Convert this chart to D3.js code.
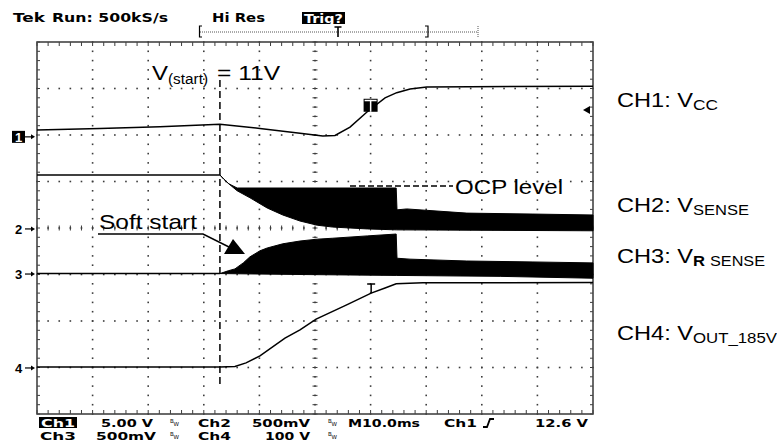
<!DOCTYPE html>
<html><head><meta charset="utf-8">
<script src="https://cdn.jsdelivr.net/npm/d3@7"></script>
<style>html,body{margin:0;padding:0;background:#fff;}svg{display:block;}</style>
</head><body>
<svg id="c" width="777" height="443"></svg>
<script>
// Horizontal: time in ms (M 10.0 ms/div, 10 divisions). Vertical: screen divisions (0..8, from bottom).
const timeDomain = [0, 100];
const divDomain = [0, 8];

// CH1: Vcc
const ch1Time = [0, 11.3, 22.1, 32.9, 40.1, 47.3, 51.4, 53.6, 56.3, 59.4, 62.6, 64.7, 67.1, 70.1, 77.9, 100];
const ch1Div  = [6.11, 6.14, 6.18, 6.23, 6.14, 6.04, 5.98, 5.99, 6.17, 6.50, 6.80, 6.91, 6.99, 7.03, 7.04, 7.05];

// CH2: Vsense (flat part, then switching envelope upper / lower edges)
const ch2FlatTime = [0, 32.9];
const ch2FlatDiv  = [5.14, 5.14];
const ch2UpTime = [32.9, 33.6, 34.5, 36.0, 47.3, 64.6, 64.75, 66.5, 77.3, 89.2, 100];
const ch2UpDiv  = [5.14, 5.05, 4.95, 4.86, 4.86, 4.86, 4.39, 4.41, 4.32, 4.30, 4.28];
const ch2LoTime = [32.9, 33.6, 34.5, 36.0, 38.3, 41.4, 44.2, 47.3, 50.4, 53.2, 59.4, 64.7, 100];
const ch2LoDiv  = [5.14, 5.05, 4.95, 4.80, 4.65, 4.43, 4.28, 4.15, 4.06, 4.02, 3.98, 3.96, 3.94];

// CH3: V R sense
const ch3FlatTime = [0, 32.9];
const ch3FlatDiv  = [3.02, 3.02];
const ch3UpTime = [32.9, 34.4, 35.6, 37.1, 38.3, 40.1, 41.4, 44.2, 47.3, 50.4, 53.2, 59.4, 64.6, 64.75, 67.1, 77.3, 89.2, 100];
const ch3UpDiv  = [3.02, 3.08, 3.12, 3.25, 3.38, 3.51, 3.57, 3.66, 3.72, 3.76, 3.78, 3.83, 3.87, 3.35, 3.33, 3.29, 3.27, 3.25];
const ch3LoTime = [32.9, 47.3, 64.7, 83.3, 100];
const ch3LoDiv  = [3.02, 3.00, 2.98, 2.96, 2.92];

// CH4: Vout_185V
const ch4Time = [0, 32.9, 35.6, 37.6, 40.1, 44.6, 47.3, 50.2, 55.6, 60.1, 62.6, 64.6, 69.4, 100];
const ch4Div  = [1.01, 1.01, 1.02, 1.10, 1.25, 1.63, 1.81, 2.04, 2.34, 2.60, 2.71, 2.80, 2.82, 2.83];

// channel ground markers (divisions) and labels
const markerNames = ["1", "2", "3", "4"];
const markerDiv = [5.96, 3.98, 3.01, 0.99];
const startTime = 32.9;       // V(start) instant
const trigLevelDiv = 6.54;    // trigger level arrow
const ch1TrigTime = 60.0, ch1TrigDiv = 6.65;
const ch4TrigTime = 60.1;

const headerTexts = ["Tek", "Run: 500kS/s", "Hi Res", "Trig?"];
const footerRow1 = ["Ch1", "5.00 V", "Ch2", "500mV", "M10.0ms", "Ch1", "12.6 V"];
const footerRow2 = ["Ch3", "500mV", "Ch4", "100 V"];

const svg = d3.select("#c");
const x = d3.scaleLinear().domain(timeDomain).range([37, 593]);
const y = d3.scaleLinear().domain(divDomain).range([414, 42]);

const zip = (a, b) => a.map((v, i) => [v, b[i]]);
const line = d3.line().x(d => x(d[0])).y(d => y(d[1]));

// ---------- grid ----------
const grid = svg.append("g");
const minorT = d3.range(0, 100.001, 2);
const minorV = d3.range(0, 8.001, 0.2);
const majorT = d3.range(10, 100, 10);
const majorV = d3.range(1, 8, 1);
const gc = "#3c3c3c";
majorT.forEach(t => minorV.forEach(v => {
  grid.append("rect").attr("x", x(t) - 0.8).attr("y", y(v) - 0.8).attr("width", 1.6).attr("height", 1.6).attr("fill", gc);
}));
majorV.forEach(v => minorT.forEach(t => {
  grid.append("rect").attr("x", x(t) - 0.8).attr("y", y(v) - 0.8).attr("width", 1.6).attr("height", 1.6).attr("fill", gc);
}));
// center cross ticks
minorV.forEach(v => grid.append("line").attr("x1", x(50) - 2.5).attr("x2", x(50) + 2.5).attr("y1", y(v)).attr("y2", y(v)).attr("stroke", gc).attr("stroke-width", 1));
minorT.forEach(t => grid.append("line").attr("y1", y(4) - 2.5).attr("y2", y(4) + 2.5).attr("x1", x(t)).attr("x2", x(t)).attr("stroke", gc).attr("stroke-width", 1));
// frame ticks
minorT.forEach(t => {
  grid.append("line").attr("x1", x(t)).attr("x2", x(t)).attr("y1", y(8)).attr("y2", y(8) + 4).attr("stroke", gc);
  grid.append("line").attr("x1", x(t)).attr("x2", x(t)).attr("y1", y(0)).attr("y2", y(0) - 4).attr("stroke", gc);
});
minorV.forEach(v => {
  grid.append("line").attr("y1", y(v)).attr("y2", y(v)).attr("x1", x(0)).attr("x2", x(0) + 3).attr("stroke", gc);
  grid.append("line").attr("y1", y(v)).attr("y2", y(v)).attr("x1", x(100)).attr("x2", x(100) - 3).attr("stroke", gc);
});
svg.append("rect").attr("x", x(0)).attr("y", y(8)).attr("width", x(100) - x(0)).attr("height", y(0) - y(8))
  .attr("fill", "none").attr("stroke", "#444").attr("stroke-width", 1.6);

// ---------- traces ----------
const tr = svg.append("g");
function envelope(upT, upV, loT, loV) {
  const pts = zip(upT, upV).concat(zip(loT, loV).reverse());
  return line(pts) + "Z";
}
tr.append("path").attr("d", envelope(ch2UpTime, ch2UpDiv, ch2LoTime, ch2LoDiv)).attr("fill", "#000").attr("stroke", "#000").attr("stroke-width", 1);
tr.append("path").attr("d", envelope(ch3UpTime, ch3UpDiv, ch3LoTime, ch3LoDiv)).attr("fill", "#000").attr("stroke", "#000").attr("stroke-width", 1);
[[ch1Time, ch1Div], [ch2FlatTime, ch2FlatDiv], [ch3FlatTime, ch3FlatDiv], [ch4Time, ch4Div]].forEach(([t, v]) => {
  tr.append("path").attr("d", line(zip(t, v))).attr("fill", "none").attr("stroke", "#000").attr("stroke-width", 1.5);
});

// V(start) dashed line
tr.append("line").attr("x1", x(startTime)).attr("x2", x(startTime)).attr("y1", 80).attr("y2", 385)
  .attr("stroke", "#000").attr("stroke-width", 1.5).attr("stroke-dasharray", "7,4");

// CH1 trigger "T" (reverse video)
const tx1 = x(ch1TrigTime), ty1 = y(ch1TrigDiv);
tr.append("rect").attr("x", tx1 - 7).attr("y", ty1 - 6).attr("width", 14).attr("height", 13).attr("fill", "#000");
tr.append("rect").attr("x", tx1 - 6).attr("y", ty1 - 5).attr("width", 12).attr("height", 1.5).attr("fill", "#fff");
tr.append("rect").attr("x", tx1 - 0.7).attr("y", ty1 - 5).attr("width", 1.5).attr("height", 12).attr("fill", "#fff");
// CH4 "T"
const tx4 = x(ch4TrigTime);
tr.append("path").attr("d", `M${tx4 - 4},284 H${tx4 + 4} M${tx4},284 V293`).attr("stroke", "#000").attr("stroke-width", 1.5).attr("fill", "none");
// trigger level arrow right
const ta = y(trigLevelDiv);
tr.append("path").attr("d", `M583,${ta} L590,${ta - 4} L590,${ta + 4} Z`).attr("fill", "#000");

// channel markers
markerNames.forEach((n, i) => {
  const my = y(markerDiv[i]);
  if (i === 0) {
    svg.append("rect").attr("x", 12).attr("y", my - 6).attr("width", 13).attr("height", 12).attr("fill", "#000");
  }
  svg.append("text").attr("x", 18.5).attr("y", my + 5).attr("text-anchor", "middle").attr("fill", i === 0 ? "#fff" : "#000")
    .attr("font-family", "Liberation Sans, Arial, sans-serif").attr("font-weight", "bold").attr("font-size", 13).text(n);
  svg.append("line").attr("x1", 25).attr("x2", 32).attr("y1", my).attr("y2", my).attr("stroke", "#000").attr("stroke-width", 1.2);
  svg.append("path").attr("d", `M35,${my} L31,${my - 2.5} L31,${my + 2.5} Z`).attr("fill", "#000");
});

// ---------- text helpers ----------
function txt(s, xx, yy, size, len, o = {}) {
  const t = svg.append("text").attr("x", xx).attr("y", yy).attr("font-size", size)
    .attr("font-family", o.family || "Liberation Sans, Arial, sans-serif")
    .attr("font-weight", o.weight || "normal").attr("fill", o.fill || "#000").text(s);
  if (len) t.attr("textLength", len).attr("lengthAdjust", "spacingAndGlyphs");
  return t;
}
const tek = "DejaVu Sans, sans-serif";

// header
txt(headerTexts[0], 13, 22, 12, 32, {family: tek, weight: "bold"});
txt(headerTexts[1], 52, 22, 12, 116, {family: tek, weight: "bold"});
txt(headerTexts[2], 212, 22, 12, 53, {family: tek, weight: "bold"});
svg.append("rect").attr("x", 302).attr("y", 12).attr("width", 43).attr("height", 12).attr("fill", "#000");
txt(headerTexts[3], 304, 22.5, 11.5, 39, {family: tek, weight: "bold", fill: "#fff"});
// record bracket
const hb = svg.append("g").attr("stroke", "#555").attr("fill", "none");
hb.append("line").attr("x1", 200).attr("x2", 478).attr("y1", 32).attr("y2", 32).attr("stroke-dasharray", "1,1");
hb.append("path").attr("d", "M202,26 H199.5 V37 H202").attr("stroke", "#000").attr("stroke-width", 1.2);
hb.append("path").attr("d", "M425,26 H428 V37 H425").attr("stroke", "#000").attr("stroke-width", 1.2);
hb.append("line").attr("x1", 478).attr("x2", 478).attr("y1", 26).attr("y2", 37).attr("stroke-dasharray", "1,1");
hb.append("path").attr("d", "M334.5,27 H341.5 M338,27 V37").attr("stroke", "#000").attr("stroke-width", 1.6);

// footer
const fs = 10.5, r1 = 427, r2 = 440;
function bw(xx, yy) {
  const t = svg.append("text").attr("x", xx).attr("y", yy - 4).attr("font-size", 5.5).attr("font-family", tek);
  t.append("tspan").text("B");
  t.append("tspan").attr("dy", 3).text("W");
}
svg.append("rect").attr("x", 39).attr("y", 417).attr("width", 38).attr("height", 11).attr("fill", "#000");
txt(footerRow1[0], 41, r1, fs, 34, {family: tek, weight: "bold", fill: "#fff"});
txt(footerRow1[1], 101, r1, fs, 52, {family: tek, weight: "bold"});
bw(170, r1);
txt(footerRow1[2], 198, r1, fs, 33, {family: tek, weight: "bold"});
txt(footerRow1[3], 252, r1, fs, 58, {family: tek, weight: "bold"});
bw(328, r1);
txt(footerRow1[4], 348, r1, fs, 72, {family: tek, weight: "bold"});
txt(footerRow1[5], 444, r1, fs, 33, {family: tek, weight: "bold"});
svg.append("path").attr("d", "M483,427 H487 L490,419 H494").attr("stroke", "#000").attr("stroke-width", 1.8).attr("fill", "none");
txt(footerRow1[6], 535, r1, fs, 53, {family: tek, weight: "bold"});
txt(footerRow2[0], 40, r2, fs, 36, {family: tek, weight: "bold"});
txt(footerRow2[1], 96, r2, fs, 60, {family: tek, weight: "bold"});
bw(170, r2);
txt(footerRow2[2], 198, r2, fs, 33, {family: tek, weight: "bold"});
txt(footerRow2[3], 265, r2, fs, 45, {family: tek, weight: "bold"});
bw(328, r2);

// annotations
txt("V", 152, 80, 21, 16);
txt("(start)", 168, 84, 14, 40);
txt("= 11V", 217, 80, 21, 63);
txt("OCP level", 455, 194, 20, 108);
svg.append("line").attr("x1", 350).attr("x2", 453).attr("y1", 186).attr("y2", 186).attr("stroke", "#000").attr("stroke-width", 1.3).attr("stroke-dasharray", "6,3");
txt("Soft start", 99, 229, 21, 98);
svg.append("path").attr("d", "M98,234 H203 L229,247").attr("stroke", "#000").attr("stroke-width", 1.5).attr("fill", "none");
svg.append("path").attr("d", "M233,239 L224,254 L245,254 Z").attr("fill", "#000");

// right channel labels
txt("CH1: V", 617, 107, 20, 76); txt("CC", 693, 110, 14, 25);
txt("CH2: V", 617, 212, 20, 76); txt("SENSE", 693, 215, 14, 56);
txt("CH3: V", 617, 263, 20, 76); txt("R", 693, 266, 14, 12, {weight: "bold"}); txt("SENSE", 710, 266, 14, 55);
txt("CH4: V", 617, 340, 20, 76); txt("OUT_185V", 693, 343, 14, 84);
</script>
</body></html>
